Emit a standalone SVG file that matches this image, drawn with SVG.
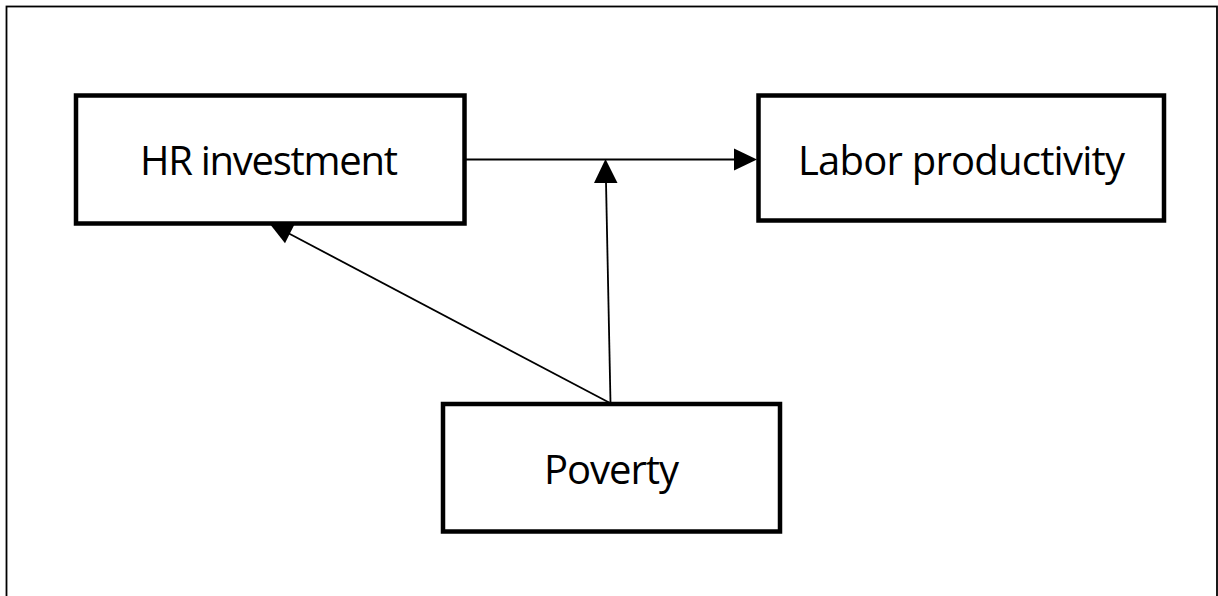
<svg xmlns="http://www.w3.org/2000/svg" width="1218" height="596" viewBox="0 0 1218 596">
<style>
.box{fill:#fff;stroke:#000;stroke-width:4.5}
.lbl{font-family:"Open Sans","Noto Sans",sans-serif;font-size:40px;fill:#000;text-anchor:middle}
.conn{stroke:#000;stroke-width:1.8;fill:none}
.head{fill:#000}
</style>
<rect x="0" y="0" width="1218" height="596" fill="#fff"/>
<rect x="6.5" y="6.5" width="1210.5" height="620" fill="none" stroke="#000" stroke-width="1.8"/>
<g id="connectors">
<line class="conn" x1="466" y1="159.5" x2="736" y2="159.5"/>
<polygon class="head" points="757,159.5 734,148.5 734,170.5"/>
<line class="conn" x1="610.5" y1="403" x2="606" y2="182"/>
<polygon class="head" points="605.5,159 594,183 617.5,183"/>
<line class="conn" x1="610" y1="403" x2="288" y2="233"/>
<polygon class="head" points="269.3,223.2 294.8,223.7 285,243.3"/>
</g>
<g id="hr">
<rect class="box" x="76" y="95.5" width="388.5" height="128"/>
<text class="lbl" x="269" y="175" textLength="258">HR investment</text>
</g>
<g id="labor">
<rect class="box" x="758.5" y="95.5" width="405.5" height="125"/>
<text class="lbl" x="961.5" y="175" textLength="327">Labor productivity</text>
</g>
<g id="poverty">
<rect class="box" x="443" y="404" width="337" height="127.5"/>
<text class="lbl" x="611.5" y="484" textLength="135">Poverty</text>
</g>
</svg>
